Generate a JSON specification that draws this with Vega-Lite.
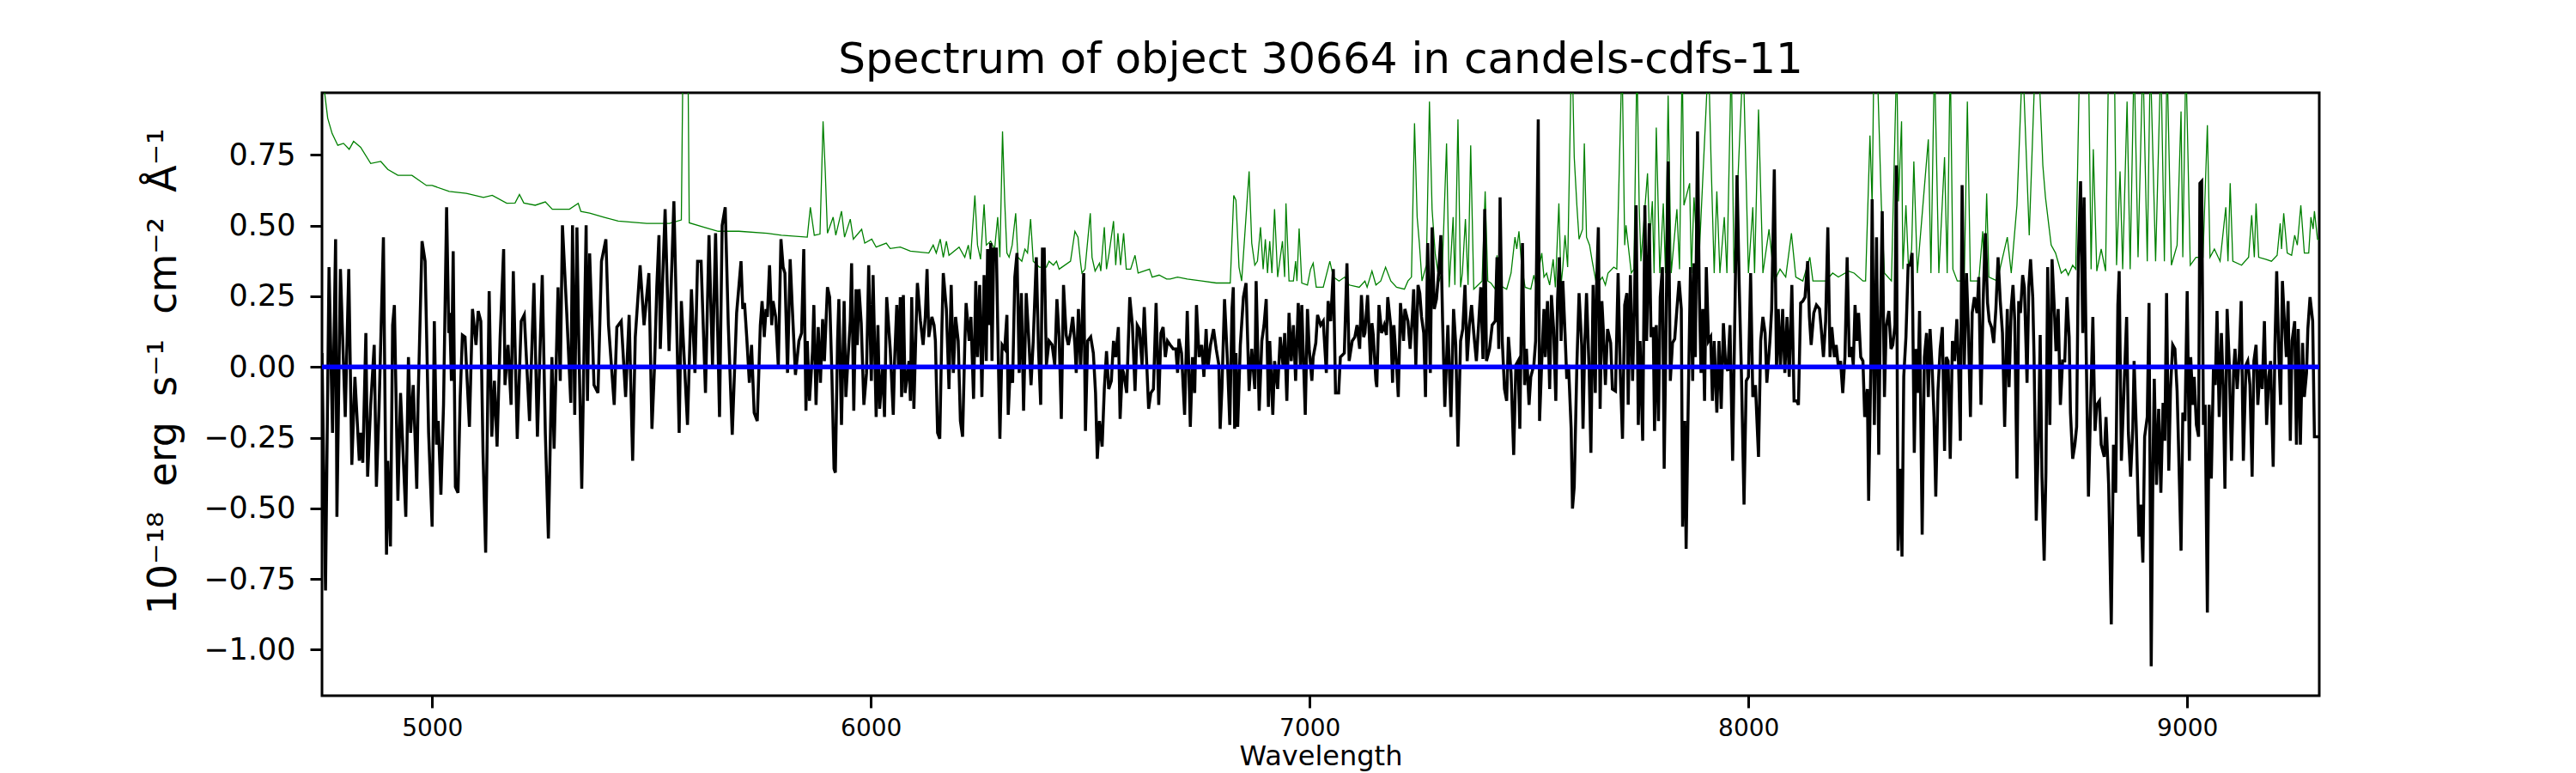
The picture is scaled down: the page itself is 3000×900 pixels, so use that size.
{
  "$schema": "https://vega.github.io/schema/vega-lite/v6.json",
  "width": 2326,
  "height": 702,
  "autosize": {"type": "none"},
  "padding": {"left": 375, "top": 108, "right": 299, "bottom": 90},
  "background": "white",
  "title": {
    "text": "Spectrum of object 30664 in candels-cdfs-11",
    "font": "DejaVu Sans",
    "fontSize": 50,
    "fontWeight": "normal",
    "color": "black",
    "anchor": "middle",
    "frame": "group",
    "offset": 13
  },
  "datasets": {
    "error": [
      {"wave": 4749, "error": 1.3}, {"wave": 4755, "error": 0.97}, {"wave": 4762, "error": 0.88}, {"wave": 4772, "error": 0.826},
      {"wave": 4785, "error": 0.784}, {"wave": 4798, "error": 0.791}, {"wave": 4811, "error": 0.77}, {"wave": 4821, "error": 0.798},
      {"wave": 4837, "error": 0.777}, {"wave": 4860, "error": 0.72}, {"wave": 4883, "error": 0.727}, {"wave": 4899, "error": 0.699},
      {"wave": 4922, "error": 0.678}, {"wave": 4954, "error": 0.678}, {"wave": 4987, "error": 0.642}, {"wave": 5000, "error": 0.642},
      {"wave": 5039, "error": 0.621}, {"wave": 5078, "error": 0.614}, {"wave": 5117, "error": 0.6}, {"wave": 5137, "error": 0.607},
      {"wave": 5170, "error": 0.579}, {"wave": 5189, "error": 0.58}, {"wave": 5199, "error": 0.61}, {"wave": 5209, "error": 0.58},
      {"wave": 5235, "error": 0.572}, {"wave": 5258, "error": 0.584}, {"wave": 5274, "error": 0.558}, {"wave": 5313, "error": 0.558},
      {"wave": 5333, "error": 0.579}, {"wave": 5339, "error": 0.55}, {"wave": 5359, "error": 0.544}, {"wave": 5391, "error": 0.53},
      {"wave": 5424, "error": 0.516}, {"wave": 5489, "error": 0.508}, {"wave": 5541, "error": 0.508}, {"wave": 5568, "error": 0.52},
      {"wave": 5573, "error": 1.3}, {"wave": 5582, "error": 1.3}, {"wave": 5586, "error": 0.51}, {"wave": 5620, "error": 0.494},
      {"wave": 5652, "error": 0.48}, {"wave": 5699, "error": 0.48}, {"wave": 5764, "error": 0.473}, {"wave": 5796, "error": 0.466},
      {"wave": 5855, "error": 0.459}, {"wave": 5862, "error": 0.565}, {"wave": 5871, "error": 0.466}, {"wave": 5884, "error": 0.47},
      {"wave": 5891, "error": 0.869}, {"wave": 5896, "error": 0.692}, {"wave": 5901, "error": 0.473}, {"wave": 5914, "error": 0.53},
      {"wave": 5920, "error": 0.466}, {"wave": 5933, "error": 0.551}, {"wave": 5940, "error": 0.459}, {"wave": 5953, "error": 0.523},
      {"wave": 5960, "error": 0.452}, {"wave": 5979, "error": 0.487}, {"wave": 5986, "error": 0.438}, {"wave": 6002, "error": 0.452},
      {"wave": 6012, "error": 0.424}, {"wave": 6035, "error": 0.438}, {"wave": 6044, "error": 0.419}, {"wave": 6067, "error": 0.424},
      {"wave": 6090, "error": 0.41}, {"wave": 6132, "error": 0.403}, {"wave": 6142, "error": 0.431}, {"wave": 6149, "error": 0.403},
      {"wave": 6158, "error": 0.452}, {"wave": 6165, "error": 0.388}, {"wave": 6172, "error": 0.445}, {"wave": 6178, "error": 0.395},
      {"wave": 6201, "error": 0.424}, {"wave": 6214, "error": 0.388}, {"wave": 6222, "error": 0.431}, {"wave": 6227, "error": 0.381},
      {"wave": 6237, "error": 0.607}, {"wave": 6243, "error": 0.431}, {"wave": 6250, "error": 0.381}, {"wave": 6258, "error": 0.575},
      {"wave": 6263, "error": 0.431}, {"wave": 6273, "error": 0.445}, {"wave": 6282, "error": 0.417}, {"wave": 6289, "error": 0.53},
      {"wave": 6294, "error": 0.388}, {"wave": 6300, "error": 0.833}, {"wave": 6305, "error": 0.586}, {"wave": 6310, "error": 0.403},
      {"wave": 6315, "error": 0.388}, {"wave": 6322, "error": 0.431}, {"wave": 6330, "error": 0.544}, {"wave": 6335, "error": 0.388},
      {"wave": 6344, "error": 0.374}, {"wave": 6351, "error": 0.417}, {"wave": 6357, "error": 0.403}, {"wave": 6364, "error": 0.523},
      {"wave": 6370, "error": 0.374}, {"wave": 6384, "error": 0.353}, {"wave": 6400, "error": 0.353}, {"wave": 6406, "error": 0.374},
      {"wave": 6416, "error": 0.36}, {"wave": 6423, "error": 0.374}, {"wave": 6429, "error": 0.346}, {"wave": 6455, "error": 0.374},
      {"wave": 6465, "error": 0.48}, {"wave": 6472, "error": 0.459}, {"wave": 6478, "error": 0.367}, {"wave": 6481, "error": 0.332},
      {"wave": 6488, "error": 0.346}, {"wave": 6500, "error": 0.544}, {"wave": 6504, "error": 0.388}, {"wave": 6511, "error": 0.339},
      {"wave": 6521, "error": 0.367}, {"wave": 6524, "error": 0.339}, {"wave": 6532, "error": 0.494}, {"wave": 6537, "error": 0.346},
      {"wave": 6543, "error": 0.403}, {"wave": 6553, "error": 0.516}, {"wave": 6558, "error": 0.36}, {"wave": 6563, "error": 0.473},
      {"wave": 6569, "error": 0.36}, {"wave": 6576, "error": 0.473}, {"wave": 6582, "error": 0.346}, {"wave": 6592, "error": 0.346},
      {"wave": 6602, "error": 0.395}, {"wave": 6609, "error": 0.332}, {"wave": 6635, "error": 0.346}, {"wave": 6641, "error": 0.318},
      {"wave": 6657, "error": 0.325}, {"wave": 6674, "error": 0.311}, {"wave": 6682, "error": 0.311}, {"wave": 6699, "error": 0.318},
      {"wave": 6721, "error": 0.311}, {"wave": 6754, "error": 0.304}, {"wave": 6787, "error": 0.297}, {"wave": 6819, "error": 0.297},
      {"wave": 6827, "error": 0.607}, {"wave": 6832, "error": 0.59}, {"wave": 6839, "error": 0.353}, {"wave": 6845, "error": 0.304},
      {"wave": 6862, "error": 0.692}, {"wave": 6868, "error": 0.438}, {"wave": 6875, "error": 0.36}, {"wave": 6881, "error": 0.374},
      {"wave": 6888, "error": 0.494}, {"wave": 6894, "error": 0.346}, {"wave": 6899, "error": 0.452}, {"wave": 6904, "error": 0.332},
      {"wave": 6909, "error": 0.445}, {"wave": 6914, "error": 0.332}, {"wave": 6920, "error": 0.558}, {"wave": 6927, "error": 0.318},
      {"wave": 6938, "error": 0.445}, {"wave": 6943, "error": 0.318}, {"wave": 6946, "error": 0.579}, {"wave": 6953, "error": 0.304},
      {"wave": 6963, "error": 0.304}, {"wave": 6968, "error": 0.374}, {"wave": 6971, "error": 0.304}, {"wave": 6976, "error": 0.49},
      {"wave": 6982, "error": 0.297}, {"wave": 6995, "error": 0.29}, {"wave": 7002, "error": 0.346}, {"wave": 7008, "error": 0.367},
      {"wave": 7015, "error": 0.282}, {"wave": 7031, "error": 0.282}, {"wave": 7046, "error": 0.374}, {"wave": 7054, "error": 0.318},
      {"wave": 7067, "error": 0.304}, {"wave": 7080, "error": 0.318}, {"wave": 7090, "error": 0.29}, {"wave": 7113, "error": 0.282},
      {"wave": 7126, "error": 0.304}, {"wave": 7131, "error": 0.282}, {"wave": 7142, "error": 0.339}, {"wave": 7151, "error": 0.29},
      {"wave": 7162, "error": 0.304}, {"wave": 7173, "error": 0.353}, {"wave": 7185, "error": 0.304}, {"wave": 7198, "error": 0.282},
      {"wave": 7216, "error": 0.275}, {"wave": 7224, "error": 0.304}, {"wave": 7232, "error": 0.318}, {"wave": 7239, "error": 0.862},
      {"wave": 7245, "error": 0.53}, {"wave": 7250, "error": 0.438}, {"wave": 7256, "error": 0.304}, {"wave": 7266, "error": 0.36},
      {"wave": 7273, "error": 0.939}, {"wave": 7279, "error": 0.558}, {"wave": 7286, "error": 0.403}, {"wave": 7295, "error": 0.304},
      {"wave": 7302, "error": 0.332}, {"wave": 7312, "error": 0.791}, {"wave": 7318, "error": 0.282}, {"wave": 7327, "error": 0.53},
      {"wave": 7331, "error": 0.29}, {"wave": 7338, "error": 0.876}, {"wave": 7344, "error": 0.282}, {"wave": 7348, "error": 0.332},
      {"wave": 7355, "error": 0.523}, {"wave": 7361, "error": 0.29}, {"wave": 7367, "error": 0.784}, {"wave": 7374, "error": 0.275},
      {"wave": 7393, "error": 0.304}, {"wave": 7400, "error": 0.621}, {"wave": 7406, "error": 0.304}, {"wave": 7413, "error": 0.297},
      {"wave": 7423, "error": 0.275}, {"wave": 7427, "error": 0.395}, {"wave": 7432, "error": 0.29}, {"wave": 7449, "error": 0.275},
      {"wave": 7459, "error": 0.332}, {"wave": 7468, "error": 0.459}, {"wave": 7472, "error": 0.417}, {"wave": 7477, "error": 0.48},
      {"wave": 7483, "error": 0.36}, {"wave": 7491, "error": 0.282}, {"wave": 7504, "error": 0.275}, {"wave": 7511, "error": 0.325},
      {"wave": 7516, "error": 0.29}, {"wave": 7529, "error": 0.403}, {"wave": 7534, "error": 0.318}, {"wave": 7540, "error": 0.332},
      {"wave": 7547, "error": 0.29}, {"wave": 7555, "error": 0.381}, {"wave": 7560, "error": 0.282}, {"wave": 7568, "error": 0.579},
      {"wave": 7573, "error": 0.29}, {"wave": 7577, "error": 0.353}, {"wave": 7582, "error": 0.466}, {"wave": 7588, "error": 0.353},
      {"wave": 7596, "error": 1.05}, {"wave": 7599, "error": 1.05}, {"wave": 7603, "error": 0.742}, {"wave": 7609, "error": 0.572},
      {"wave": 7614, "error": 0.452}, {"wave": 7622, "error": 0.487}, {"wave": 7626, "error": 0.791}, {"wave": 7631, "error": 0.459},
      {"wave": 7638, "error": 0.431}, {"wave": 7644, "error": 0.374}, {"wave": 7654, "error": 0.29}, {"wave": 7667, "error": 0.318},
      {"wave": 7674, "error": 0.29}, {"wave": 7680, "error": 0.332}, {"wave": 7693, "error": 0.353}, {"wave": 7700, "error": 0.346},
      {"wave": 7712, "error": 1.1}, {"wave": 7718, "error": 0.431}, {"wave": 7721, "error": 0.501}, {"wave": 7733, "error": 0.332},
      {"wave": 7739, "error": 0.346}, {"wave": 7746, "error": 1.1}, {"wave": 7751, "error": 0.572}, {"wave": 7755, "error": 0.374},
      {"wave": 7770, "error": 0.685}, {"wave": 7775, "error": 0.445}, {"wave": 7781, "error": 0.586}, {"wave": 7785, "error": 0.332},
      {"wave": 7790, "error": 0.847}, {"wave": 7798, "error": 0.332}, {"wave": 7806, "error": 0.579}, {"wave": 7811, "error": 0.332},
      {"wave": 7817, "error": 0.96}, {"wave": 7824, "error": 0.332}, {"wave": 7837, "error": 0.558}, {"wave": 7843, "error": 0.346},
      {"wave": 7849, "error": 1.1}, {"wave": 7853, "error": 0.572}, {"wave": 7866, "error": 0.65}, {"wave": 7870, "error": 0.332},
      {"wave": 7876, "error": 0.6}, {"wave": 7886, "error": 0.332}, {"wave": 7909, "error": 1.1}, {"wave": 7915, "error": 0.72},
      {"wave": 7922, "error": 0.332}, {"wave": 7928, "error": 0.621}, {"wave": 7935, "error": 0.332}, {"wave": 7945, "error": 0.53},
      {"wave": 7951, "error": 0.332}, {"wave": 7961, "error": 1.1}, {"wave": 7967, "error": 0.332}, {"wave": 7988, "error": 1.1},
      {"wave": 8000, "error": 0.332}, {"wave": 8010, "error": 0.565}, {"wave": 8014, "error": 0.332}, {"wave": 8023, "error": 0.911},
      {"wave": 8033, "error": 0.332}, {"wave": 8047, "error": 0.487}, {"wave": 8059, "error": 0.304}, {"wave": 8072, "error": 0.346},
      {"wave": 8085, "error": 0.318}, {"wave": 8098, "error": 0.473}, {"wave": 8108, "error": 0.318}, {"wave": 8124, "error": 0.304},
      {"wave": 8140, "error": 0.388}, {"wave": 8147, "error": 0.304}, {"wave": 8176, "error": 0.304}, {"wave": 8192, "error": 0.332},
      {"wave": 8205, "error": 0.318}, {"wave": 8228, "error": 0.339}, {"wave": 8241, "error": 0.332}, {"wave": 8261, "error": 0.304},
      {"wave": 8267, "error": 0.304}, {"wave": 8277, "error": 0.819}, {"wave": 8282, "error": 0.572}, {"wave": 8286, "error": 1.1},
      {"wave": 8293, "error": 1.1}, {"wave": 8303, "error": 0.572}, {"wave": 8310, "error": 0.332}, {"wave": 8326, "error": 0.304},
      {"wave": 8338, "error": 1.1}, {"wave": 8342, "error": 0.586}, {"wave": 8349, "error": 0.869}, {"wave": 8352, "error": 0.346},
      {"wave": 8359, "error": 0.572}, {"wave": 8365, "error": 0.346}, {"wave": 8372, "error": 0.417}, {"wave": 8377, "error": 0.727},
      {"wave": 8385, "error": 0.332}, {"wave": 8410, "error": 0.805}, {"wave": 8416, "error": 0.332}, {"wave": 8424, "error": 1.1},
      {"wave": 8434, "error": 0.332}, {"wave": 8447, "error": 0.742}, {"wave": 8453, "error": 0.332}, {"wave": 8460, "error": 1.1},
      {"wave": 8466, "error": 0.346}, {"wave": 8476, "error": 0.304}, {"wave": 8492, "error": 0.304}, {"wave": 8499, "error": 0.939},
      {"wave": 8506, "error": 0.304}, {"wave": 8525, "error": 0.304}, {"wave": 8534, "error": 0.48}, {"wave": 8538, "error": 0.318},
      {"wave": 8543, "error": 0.614}, {"wave": 8548, "error": 0.318}, {"wave": 8567, "error": 0.304}, {"wave": 8590, "error": 0.459},
      {"wave": 8599, "error": 0.332}, {"wave": 8612, "error": 0.572}, {"wave": 8625, "error": 1.1}, {"wave": 8640, "error": 0.466},
      {"wave": 8654, "error": 1.1}, {"wave": 8661, "error": 1.1}, {"wave": 8671, "error": 0.713}, {"wave": 8677, "error": 0.6},
      {"wave": 8690, "error": 0.431}, {"wave": 8700, "error": 0.403}, {"wave": 8713, "error": 0.332}, {"wave": 8723, "error": 0.346},
      {"wave": 8729, "error": 0.325}, {"wave": 8739, "error": 0.36}, {"wave": 8746, "error": 0.346}, {"wave": 8755, "error": 1.1},
      {"wave": 8765, "error": 1.1}, {"wave": 8775, "error": 1.1}, {"wave": 8781, "error": 0.346}, {"wave": 8786, "error": 0.77},
      {"wave": 8794, "error": 0.339}, {"wave": 8804, "error": 0.417}, {"wave": 8814, "error": 0.339}, {"wave": 8821, "error": 1.1},
      {"wave": 8834, "error": 1.1}, {"wave": 8839, "error": 0.36}, {"wave": 8847, "error": 0.692}, {"wave": 8853, "error": 0.346},
      {"wave": 8863, "error": 0.939}, {"wave": 8870, "error": 0.346}, {"wave": 8879, "error": 1.1}, {"wave": 8888, "error": 0.388},
      {"wave": 8899, "error": 1.1}, {"wave": 8909, "error": 0.374}, {"wave": 8916, "error": 1.1}, {"wave": 8928, "error": 0.374},
      {"wave": 8940, "error": 1.1}, {"wave": 8948, "error": 0.374}, {"wave": 8954, "error": 1.1}, {"wave": 8964, "error": 0.36},
      {"wave": 8977, "error": 0.431}, {"wave": 8986, "error": 0.904}, {"wave": 8990, "error": 0.388}, {"wave": 8997, "error": 1.1},
      {"wave": 9007, "error": 0.36}, {"wave": 9020, "error": 0.388}, {"wave": 9036, "error": 0.388}, {"wave": 9046, "error": 0.855},
      {"wave": 9052, "error": 0.388}, {"wave": 9062, "error": 0.417}, {"wave": 9075, "error": 0.374}, {"wave": 9088, "error": 0.565},
      {"wave": 9093, "error": 0.374}, {"wave": 9098, "error": 0.65}, {"wave": 9104, "error": 0.374}, {"wave": 9124, "error": 0.36},
      {"wave": 9140, "error": 0.388}, {"wave": 9147, "error": 0.537}, {"wave": 9153, "error": 0.388}, {"wave": 9157, "error": 0.579},
      {"wave": 9163, "error": 0.388}, {"wave": 9179, "error": 0.381}, {"wave": 9192, "error": 0.374}, {"wave": 9205, "error": 0.395},
      {"wave": 9212, "error": 0.508}, {"wave": 9215, "error": 0.417}, {"wave": 9220, "error": 0.544}, {"wave": 9228, "error": 0.403},
      {"wave": 9238, "error": 0.395}, {"wave": 9245, "error": 0.466}, {"wave": 9251, "error": 0.431}, {"wave": 9259, "error": 0.572},
      {"wave": 9267, "error": 0.403}, {"wave": 9277, "error": 0.403}, {"wave": 9282, "error": 0.53}, {"wave": 9287, "error": 0.488},
      {"wave": 9290, "error": 0.551}, {"wave": 9297, "error": 0.452}, {"wave": 9301, "error": 0.45}
    ],
    "model": [
      {"wave": 4749, "model": 0}, {"wave": 9301, "model": 0}
    ],
    "flux": [
      {"wave": 4749, "flux": 0.049}, {"wave": 4757, "flux": -0.791}, {"wave": 4765, "flux": 0.353}, {"wave": 4773, "flux": -0.233},
      {"wave": 4780, "flux": 0.452}, {"wave": 4783, "flux": -0.53}, {"wave": 4791, "flux": 0.346}, {"wave": 4802, "flux": -0.177},
      {"wave": 4810, "flux": 0.346}, {"wave": 4817, "flux": -0.346}, {"wave": 4824, "flux": -0.035}, {"wave": 4834, "flux": -0.332},
      {"wave": 4837, "flux": -0.233}, {"wave": 4842, "flux": -0.339}, {"wave": 4849, "flux": 0.12}, {"wave": 4853, "flux": -0.388},
      {"wave": 4860, "flux": -0.134}, {"wave": 4868, "flux": 0.078}, {"wave": 4873, "flux": -0.424}, {"wave": 4879, "flux": -0.148},
      {"wave": 4889, "flux": 0.459}, {"wave": 4896, "flux": -0.664}, {"wave": 4899, "flux": -0.332}, {"wave": 4905, "flux": -0.635},
      {"wave": 4910, "flux": 0.148}, {"wave": 4914, "flux": 0.219}, {"wave": 4922, "flux": -0.473}, {"wave": 4928, "flux": -0.092},
      {"wave": 4940, "flux": -0.53}, {"wave": 4946, "flux": 0.035}, {"wave": 4951, "flux": -0.233}, {"wave": 4957, "flux": -0.064},
      {"wave": 4965, "flux": -0.431}, {"wave": 4968, "flux": -0.12}, {"wave": 4977, "flux": 0.445}, {"wave": 4984, "flux": 0.374},
      {"wave": 4992, "flux": -0.233}, {"wave": 5000, "flux": -0.565}, {"wave": 5005, "flux": 0.162}, {"wave": 5010, "flux": -0.275},
      {"wave": 5014, "flux": -0.191}, {"wave": 5020, "flux": -0.452}, {"wave": 5026, "flux": -0.134}, {"wave": 5033, "flux": 0.565},
      {"wave": 5038, "flux": 0.12}, {"wave": 5040, "flux": 0.191}, {"wave": 5044, "flux": -0.049}, {"wave": 5048, "flux": 0.409},
      {"wave": 5053, "flux": -0.424}, {"wave": 5059, "flux": -0.445}, {"wave": 5064, "flux": -0.106}, {"wave": 5069, "flux": 0.113},
      {"wave": 5075, "flux": 0.106}, {"wave": 5085, "flux": -0.212}, {"wave": 5092, "flux": 0.205}, {"wave": 5100, "flux": 0.078},
      {"wave": 5105, "flux": 0.198}, {"wave": 5111, "flux": 0.162}, {"wave": 5116, "flux": -0.304}, {"wave": 5122, "flux": -0.657},
      {"wave": 5130, "flux": 0.268}, {"wave": 5136, "flux": -0.247}, {"wave": 5142, "flux": -0.049}, {"wave": 5148, "flux": -0.282},
      {"wave": 5155, "flux": 0.106}, {"wave": 5163, "flux": 0.417}, {"wave": 5166, "flux": -0.064}, {"wave": 5173, "flux": 0.078},
      {"wave": 5180, "flux": -0.134}, {"wave": 5185, "flux": 0.339}, {"wave": 5194, "flux": -0.254}, {"wave": 5203, "flux": 0.162},
      {"wave": 5210, "flux": 0.184}, {"wave": 5222, "flux": -0.191}, {"wave": 5232, "flux": 0.297}, {"wave": 5240, "flux": -0.247},
      {"wave": 5251, "flux": 0.325}, {"wave": 5258, "flux": -0.233}, {"wave": 5265, "flux": -0.607}, {"wave": 5273, "flux": 0.035},
      {"wave": 5278, "flux": -0.289}, {"wave": 5287, "flux": 0.282}, {"wave": 5292, "flux": -0.049}, {"wave": 5297, "flux": 0.501},
      {"wave": 5307, "flux": 0.184}, {"wave": 5316, "flux": -0.127}, {"wave": 5320, "flux": 0.501}, {"wave": 5325, "flux": -0.169},
      {"wave": 5330, "flux": 0.494}, {"wave": 5334, "flux": 0.113}, {"wave": 5341, "flux": -0.431}, {"wave": 5351, "flux": 0.501},
      {"wave": 5354, "flux": -0.12}, {"wave": 5359, "flux": 0.402}, {"wave": 5369, "flux": -0.064}, {"wave": 5378, "flux": -0.092},
      {"wave": 5386, "flux": 0.374}, {"wave": 5396, "flux": 0.452}, {"wave": 5402, "flux": 0.148}, {"wave": 5415, "flux": -0.134},
      {"wave": 5421, "flux": 0.141}, {"wave": 5431, "flux": 0.162}, {"wave": 5441, "flux": -0.106}, {"wave": 5449, "flux": 0.184},
      {"wave": 5457, "flux": -0.332}, {"wave": 5463, "flux": 0.106}, {"wave": 5474, "flux": 0.36}, {"wave": 5483, "flux": 0.148},
      {"wave": 5494, "flux": 0.332}, {"wave": 5501, "flux": -0.219}, {"wave": 5507, "flux": 0.007}, {"wave": 5512, "flux": 0.282},
      {"wave": 5517, "flux": 0.466}, {"wave": 5520, "flux": 0.064}, {"wave": 5531, "flux": 0.558}, {"wave": 5540, "flux": 0.056},
      {"wave": 5551, "flux": 0.586}, {"wave": 5563, "flux": -0.233}, {"wave": 5568, "flux": 0.233}, {"wave": 5582, "flux": -0.205},
      {"wave": 5591, "flux": 0.275}, {"wave": 5599, "flux": -0.021}, {"wave": 5605, "flux": 0.374}, {"wave": 5613, "flux": 0.374},
      {"wave": 5623, "flux": -0.092}, {"wave": 5631, "flux": 0.466}, {"wave": 5639, "flux": 0.007}, {"wave": 5646, "flux": 0.473},
      {"wave": 5655, "flux": -0.177}, {"wave": 5661, "flux": 0.501}, {"wave": 5668, "flux": 0.565}, {"wave": 5675, "flux": 0.148},
      {"wave": 5684, "flux": -0.24}, {"wave": 5694, "flux": 0.191}, {"wave": 5704, "flux": 0.374}, {"wave": 5708, "flux": 0.205},
      {"wave": 5712, "flux": 0.226}, {"wave": 5717, "flux": 0.106}, {"wave": 5723, "flux": -0.056}, {"wave": 5728, "flux": 0.078},
      {"wave": 5734, "flux": -0.162}, {"wave": 5741, "flux": -0.191}, {"wave": 5748, "flux": 0.148}, {"wave": 5752, "flux": 0.233},
      {"wave": 5757, "flux": 0.106}, {"wave": 5761, "flux": 0.205}, {"wave": 5764, "flux": 0.177}, {"wave": 5769, "flux": 0.36},
      {"wave": 5774, "flux": 0.148}, {"wave": 5777, "flux": 0.233}, {"wave": 5783, "flux": 0.177}, {"wave": 5789, "flux": 0},
      {"wave": 5795, "flux": 0.452}, {"wave": 5800, "flux": 0.353}, {"wave": 5804, "flux": 0.332}, {"wave": 5810, "flux": -0.021},
      {"wave": 5816, "flux": 0.381}, {"wave": 5821, "flux": 0.205}, {"wave": 5828, "flux": -0.028}, {"wave": 5836, "flux": 0.092},
      {"wave": 5842, "flux": 0.12}, {"wave": 5847, "flux": 0.417}, {"wave": 5852, "flux": -0.155}, {"wave": 5855, "flux": 0.092},
      {"wave": 5860, "flux": -0.12}, {"wave": 5867, "flux": 0.056}, {"wave": 5870, "flux": 0.219}, {"wave": 5875, "flux": -0.134},
      {"wave": 5880, "flux": 0.141}, {"wave": 5885, "flux": -0.056}, {"wave": 5890, "flux": 0.169}, {"wave": 5894, "flux": 0.021},
      {"wave": 5901, "flux": 0.282}, {"wave": 5906, "flux": 0.247}, {"wave": 5911, "flux": -0.021}, {"wave": 5916, "flux": -0.36},
      {"wave": 5919, "flux": -0.374}, {"wave": 5924, "flux": 0.092}, {"wave": 5927, "flux": 0.24}, {"wave": 5933, "flux": -0.205},
      {"wave": 5939, "flux": 0.233}, {"wave": 5943, "flux": -0.106}, {"wave": 5948, "flux": 0.035}, {"wave": 5953, "flux": 0.162},
      {"wave": 5956, "flux": 0.367}, {"wave": 5961, "flux": -0.155}, {"wave": 5966, "flux": 0.275}, {"wave": 5969, "flux": 0.078},
      {"wave": 5973, "flux": 0.275}, {"wave": 5978, "flux": 0.155}, {"wave": 5984, "flux": -0.134}, {"wave": 5990, "flux": -0.021},
      {"wave": 5995, "flux": 0.36}, {"wave": 6001, "flux": -0.049}, {"wave": 6005, "flux": 0.325}, {"wave": 6012, "flux": -0.177},
      {"wave": 6016, "flux": 0.148}, {"wave": 6020, "flux": -0.148}, {"wave": 6027, "flux": 0.007}, {"wave": 6031, "flux": -0.177},
      {"wave": 6036, "flux": 0.247}, {"wave": 6044, "flux": 0.064}, {"wave": 6051, "flux": -0.169}, {"wave": 6054, "flux": 0.021},
      {"wave": 6059, "flux": 0.219}, {"wave": 6063, "flux": -0.007}, {"wave": 6067, "flux": 0.247}, {"wave": 6070, "flux": -0.106},
      {"wave": 6074, "flux": 0.254}, {"wave": 6078, "flux": -0.092}, {"wave": 6087, "flux": 0.021}, {"wave": 6090, "flux": -0.12},
      {"wave": 6093, "flux": 0.247}, {"wave": 6098, "flux": -0.148}, {"wave": 6103, "flux": 0.148}, {"wave": 6106, "flux": 0.297},
      {"wave": 6113, "flux": 0.162}, {"wave": 6119, "flux": 0.078}, {"wave": 6124, "flux": 0.177}, {"wave": 6128, "flux": 0.346},
      {"wave": 6132, "flux": 0.106}, {"wave": 6139, "flux": 0.177}, {"wave": 6144, "flux": 0.148}, {"wave": 6147, "flux": 0.092},
      {"wave": 6152, "flux": -0.233}, {"wave": 6157, "flux": -0.254}, {"wave": 6162, "flux": 0.148}, {"wave": 6165, "flux": 0.332},
      {"wave": 6172, "flux": 0.205}, {"wave": 6178, "flux": -0.078}, {"wave": 6183, "flux": 0.29}, {"wave": 6188, "flux": -0.021},
      {"wave": 6193, "flux": 0.177}, {"wave": 6199, "flux": 0.092}, {"wave": 6204, "flux": -0.191}, {"wave": 6209, "flux": -0.247},
      {"wave": 6214, "flux": 0.078}, {"wave": 6217, "flux": 0.226}, {"wave": 6224, "flux": 0.092}, {"wave": 6228, "flux": 0.177},
      {"wave": 6234, "flux": -0.113}, {"wave": 6239, "flux": 0.304}, {"wave": 6243, "flux": 0.035}, {"wave": 6248, "flux": 0.29},
      {"wave": 6253, "flux": -0.106}, {"wave": 6258, "flux": 0.325}, {"wave": 6263, "flux": 0.021}, {"wave": 6266, "flux": 0.417},
      {"wave": 6269, "flux": 0.148}, {"wave": 6273, "flux": 0.438}, {"wave": 6276, "flux": 0.021}, {"wave": 6280, "flux": 0.417},
      {"wave": 6286, "flux": 0.417}, {"wave": 6290, "flux": 0.064}, {"wave": 6294, "flux": -0.254}, {"wave": 6299, "flux": 0.078},
      {"wave": 6305, "flux": 0.064}, {"wave": 6310, "flux": 0.184}, {"wave": 6313, "flux": -0.169}, {"wave": 6318, "flux": 0.007},
      {"wave": 6323, "flux": -0.056}, {"wave": 6328, "flux": 0.318}, {"wave": 6333, "flux": 0.403}, {"wave": 6338, "flux": -0.021},
      {"wave": 6343, "flux": 0.261}, {"wave": 6348, "flux": -0.155}, {"wave": 6354, "flux": 0.261}, {"wave": 6361, "flux": 0.064},
      {"wave": 6365, "flux": -0.064}, {"wave": 6370, "flux": 0.092}, {"wave": 6377, "flux": 0.388}, {"wave": 6382, "flux": 0.064},
      {"wave": 6387, "flux": -0.134}, {"wave": 6391, "flux": 0.417}, {"wave": 6395, "flux": 0.417}, {"wave": 6400, "flux": 0.007},
      {"wave": 6406, "flux": 0.092}, {"wave": 6413, "flux": 0.078}, {"wave": 6419, "flux": 0.007}, {"wave": 6424, "flux": 0.24},
      {"wave": 6429, "flux": 0.106}, {"wave": 6434, "flux": -0.184}, {"wave": 6439, "flux": 0.29}, {"wave": 6445, "flux": 0.113},
      {"wave": 6450, "flux": 0.078}, {"wave": 6455, "flux": 0.12}, {"wave": 6460, "flux": 0.177}, {"wave": 6465, "flux": 0.078},
      {"wave": 6468, "flux": -0.021}, {"wave": 6473, "flux": 0.205}, {"wave": 6478, "flux": -0.007}, {"wave": 6485, "flux": 0.332},
      {"wave": 6489, "flux": -0.226}, {"wave": 6494, "flux": 0.092}, {"wave": 6501, "flux": 0.106}, {"wave": 6507, "flux": 0.049},
      {"wave": 6512, "flux": -0.092}, {"wave": 6516, "flux": -0.325}, {"wave": 6521, "flux": -0.191}, {"wave": 6527, "flux": -0.282},
      {"wave": 6532, "flux": -0.078}, {"wave": 6537, "flux": 0.056}, {"wave": 6542, "flux": -0.078}, {"wave": 6548, "flux": -0.049},
      {"wave": 6553, "flux": 0.092}, {"wave": 6558, "flux": 0.035}, {"wave": 6564, "flux": 0.141}, {"wave": 6568, "flux": -0.184},
      {"wave": 6573, "flux": -0.007}, {"wave": 6576, "flux": -0.021}, {"wave": 6583, "flux": -0.092}, {"wave": 6590, "flux": 0.247},
      {"wave": 6596, "flux": 0.148}, {"wave": 6602, "flux": -0.085}, {"wave": 6607, "flux": 0.148}, {"wave": 6612, "flux": 0.134},
      {"wave": 6618, "flux": 0.007}, {"wave": 6623, "flux": 0.212}, {"wave": 6628, "flux": 0.035}, {"wave": 6633, "flux": -0.148},
      {"wave": 6638, "flux": -0.092}, {"wave": 6644, "flux": -0.078}, {"wave": 6650, "flux": 0.226}, {"wave": 6656, "flux": -0.134},
      {"wave": 6661, "flux": 0.12}, {"wave": 6666, "flux": 0.141}, {"wave": 6671, "flux": 0.035}, {"wave": 6676, "flux": 0.092},
      {"wave": 6682, "flux": 0.078}, {"wave": 6689, "flux": 0.064}, {"wave": 6695, "flux": 0.064}, {"wave": 6699, "flux": -0.021},
      {"wave": 6702, "flux": 0.099}, {"wave": 6708, "flux": 0.049}, {"wave": 6715, "flux": -0.169}, {"wave": 6721, "flux": 0.198},
      {"wave": 6728, "flux": -0.212}, {"wave": 6733, "flux": 0.035}, {"wave": 6738, "flux": -0.092}, {"wave": 6742, "flux": 0.219},
      {"wave": 6748, "flux": 0.035}, {"wave": 6754, "flux": 0.078}, {"wave": 6759, "flux": -0.035}, {"wave": 6764, "flux": 0.134},
      {"wave": 6768, "flux": -0.007}, {"wave": 6774, "flux": 0.078}, {"wave": 6781, "flux": 0.134}, {"wave": 6787, "flux": 0.064},
      {"wave": 6793, "flux": 0.007}, {"wave": 6796, "flux": -0.219}, {"wave": 6800, "flux": -0.078}, {"wave": 6806, "flux": 0.24},
      {"wave": 6813, "flux": 0.007}, {"wave": 6818, "flux": -0.205}, {"wave": 6823, "flux": 0.205}, {"wave": 6826, "flux": 0.282},
      {"wave": 6829, "flux": -0.219}, {"wave": 6832, "flux": 0.049}, {"wave": 6836, "flux": -0.212}, {"wave": 6842, "flux": 0.078},
      {"wave": 6849, "flux": 0.247}, {"wave": 6855, "flux": 0.297}, {"wave": 6862, "flux": -0.085}, {"wave": 6868, "flux": 0.064},
      {"wave": 6875, "flux": -0.078}, {"wave": 6878, "flux": 0.304}, {"wave": 6885, "flux": -0.155}, {"wave": 6891, "flux": 0.092},
      {"wave": 6896, "flux": 0.148}, {"wave": 6901, "flux": 0.24}, {"wave": 6906, "flux": -0.141}, {"wave": 6909, "flux": 0.092},
      {"wave": 6916, "flux": -0.169}, {"wave": 6920, "flux": 0.021}, {"wave": 6927, "flux": -0.078}, {"wave": 6933, "flux": 0.106},
      {"wave": 6940, "flux": -0.007}, {"wave": 6943, "flux": 0.12}, {"wave": 6948, "flux": -0.12}, {"wave": 6953, "flux": 0.191},
      {"wave": 6958, "flux": 0.021}, {"wave": 6963, "flux": 0.148}, {"wave": 6968, "flux": -0.049}, {"wave": 6974, "flux": 0.226},
      {"wave": 6979, "flux": 0.007}, {"wave": 6982, "flux": 0.219}, {"wave": 6986, "flux": 0.021}, {"wave": 6990, "flux": -0.169},
      {"wave": 6995, "flux": 0.205}, {"wave": 6999, "flux": 0.064}, {"wave": 7005, "flux": -0.049}, {"wave": 7008, "flux": 0.035},
      {"wave": 7014, "flux": 0.085}, {"wave": 7018, "flux": 0.184}, {"wave": 7025, "flux": 0.148}, {"wave": 7031, "flux": 0.162},
      {"wave": 7038, "flux": -0.021}, {"wave": 7042, "flux": 0.233}, {"wave": 7048, "flux": 0.162}, {"wave": 7054, "flux": 0.346},
      {"wave": 7059, "flux": -0.092}, {"wave": 7066, "flux": -0.092}, {"wave": 7070, "flux": 0.035}, {"wave": 7079, "flux": 0.049},
      {"wave": 7085, "flux": 0.367}, {"wave": 7090, "flux": 0.021}, {"wave": 7097, "flux": 0.092}, {"wave": 7103, "flux": 0.106},
      {"wave": 7108, "flux": 0.148}, {"wave": 7114, "flux": 0.064}, {"wave": 7118, "flux": 0.254}, {"wave": 7123, "flux": 0.106},
      {"wave": 7126, "flux": 0.12}, {"wave": 7132, "flux": 0.254}, {"wave": 7139, "flux": 0}, {"wave": 7142, "flux": 0.155},
      {"wave": 7145, "flux": 0.113}, {"wave": 7151, "flux": -0.049}, {"wave": 7153, "flux": -0.071}, {"wave": 7158, "flux": 0.219},
      {"wave": 7164, "flux": 0.12}, {"wave": 7170, "flux": 0.148}, {"wave": 7175, "flux": 0.113}, {"wave": 7178, "flux": 0.247},
      {"wave": 7185, "flux": 0.141}, {"wave": 7189, "flux": -0.056}, {"wave": 7192, "flux": 0.148}, {"wave": 7198, "flux": 0.007},
      {"wave": 7202, "flux": -0.106}, {"wave": 7207, "flux": 0.226}, {"wave": 7214, "flux": 0.092}, {"wave": 7217, "flux": 0.205},
      {"wave": 7224, "flux": 0.162}, {"wave": 7229, "flux": 0.064}, {"wave": 7234, "flux": 0.177}, {"wave": 7237, "flux": 0.275},
      {"wave": 7242, "flux": 0.007}, {"wave": 7247, "flux": 0.29}, {"wave": 7251, "flux": 0.261}, {"wave": 7255, "flux": 0.177},
      {"wave": 7260, "flux": 0.12}, {"wave": 7264, "flux": -0.106}, {"wave": 7269, "flux": 0.438}, {"wave": 7275, "flux": -0.021},
      {"wave": 7279, "flux": 0.494}, {"wave": 7284, "flux": 0.205}, {"wave": 7289, "flux": 0.24}, {"wave": 7294, "flux": 0.332},
      {"wave": 7299, "flux": 0.466}, {"wave": 7303, "flux": 0.162}, {"wave": 7308, "flux": -0.141}, {"wave": 7315, "flux": 0.148},
      {"wave": 7322, "flux": -0.177}, {"wave": 7328, "flux": 0.205}, {"wave": 7333, "flux": 0.078}, {"wave": 7338, "flux": -0.282},
      {"wave": 7344, "flux": 0.092}, {"wave": 7349, "flux": 0.134}, {"wave": 7354, "flux": 0.29}, {"wave": 7359, "flux": 0.021},
      {"wave": 7364, "flux": 0.148}, {"wave": 7369, "flux": 0.219}, {"wave": 7374, "flux": 0.12}, {"wave": 7380, "flux": 0.021},
      {"wave": 7385, "flux": 0.148}, {"wave": 7390, "flux": 0.282}, {"wave": 7395, "flux": 0.028}, {"wave": 7399, "flux": 0.558},
      {"wave": 7403, "flux": 0.021}, {"wave": 7410, "flux": 0.064}, {"wave": 7416, "flux": 0.148}, {"wave": 7423, "flux": 0.162},
      {"wave": 7427, "flux": 0.388}, {"wave": 7431, "flux": 0.064}, {"wave": 7434, "flux": 0.6}, {"wave": 7439, "flux": 0.092},
      {"wave": 7444, "flux": -0.078}, {"wave": 7449, "flux": -0.12}, {"wave": 7453, "flux": 0.106}, {"wave": 7459, "flux": -0.021},
      {"wave": 7465, "flux": -0.311}, {"wave": 7470, "flux": 0.007}, {"wave": 7475, "flux": 0.021}, {"wave": 7479, "flux": -0.219},
      {"wave": 7485, "flux": 0.438}, {"wave": 7490, "flux": -0.064}, {"wave": 7494, "flux": 0.064}, {"wave": 7500, "flux": -0.134},
      {"wave": 7504, "flux": -0.035}, {"wave": 7511, "flux": 0.007}, {"wave": 7515, "flux": 0.092}, {"wave": 7521, "flux": 0.876},
      {"wave": 7524, "flux": -0.191}, {"wave": 7529, "flux": 0.021}, {"wave": 7534, "flux": 0.205}, {"wave": 7537, "flux": 0.035},
      {"wave": 7542, "flux": 0.233}, {"wave": 7547, "flux": -0.078}, {"wave": 7551, "flux": 0.254}, {"wave": 7556, "flux": 0.134},
      {"wave": 7561, "flux": -0.12}, {"wave": 7565, "flux": 0.24}, {"wave": 7569, "flux": 0.388}, {"wave": 7573, "flux": 0.092},
      {"wave": 7577, "flux": 0.304}, {"wave": 7582, "flux": 0.12}, {"wave": 7586, "flux": -0.042}, {"wave": 7590, "flux": 0.007},
      {"wave": 7596, "flux": -0.219}, {"wave": 7599, "flux": -0.501}, {"wave": 7603, "flux": -0.424}, {"wave": 7609, "flux": 0.007},
      {"wave": 7614, "flux": 0.261}, {"wave": 7620, "flux": 0.078}, {"wave": 7623, "flux": -0.219}, {"wave": 7627, "flux": 0.078},
      {"wave": 7631, "flux": 0.261}, {"wave": 7637, "flux": -0.014}, {"wave": 7641, "flux": -0.304}, {"wave": 7646, "flux": 0.29},
      {"wave": 7651, "flux": -0.092}, {"wave": 7654, "flux": 0.29}, {"wave": 7658, "flux": 0.494}, {"wave": 7662, "flux": -0.148},
      {"wave": 7666, "flux": 0.233}, {"wave": 7669, "flux": 0.141}, {"wave": 7674, "flux": -0.064}, {"wave": 7679, "flux": 0.134},
      {"wave": 7686, "flux": 0.085}, {"wave": 7690, "flux": -0.078}, {"wave": 7697, "flux": -0.085}, {"wave": 7703, "flux": 0.332},
      {"wave": 7708, "flux": -0.021}, {"wave": 7713, "flux": -0.254}, {"wave": 7718, "flux": 0.219}, {"wave": 7723, "flux": 0.261},
      {"wave": 7726, "flux": -0.134}, {"wave": 7731, "flux": 0.325}, {"wave": 7736, "flux": -0.049}, {"wave": 7740, "flux": 0.205},
      {"wave": 7744, "flux": 0.572}, {"wave": 7749, "flux": -0.205}, {"wave": 7753, "flux": 0.092}, {"wave": 7759, "flux": -0.261},
      {"wave": 7764, "flux": 0.572}, {"wave": 7768, "flux": 0.092}, {"wave": 7774, "flux": 0.508}, {"wave": 7778, "flux": 0.106},
      {"wave": 7783, "flux": 0.141}, {"wave": 7786, "flux": -0.226}, {"wave": 7790, "flux": 0.148}, {"wave": 7795, "flux": -0.191},
      {"wave": 7799, "flux": 0.247}, {"wave": 7804, "flux": 0.353}, {"wave": 7808, "flux": -0.36}, {"wave": 7812, "flux": 0.106},
      {"wave": 7817, "flux": 0.727}, {"wave": 7822, "flux": -0.049}, {"wave": 7827, "flux": 0.085}, {"wave": 7832, "flux": 0.099},
      {"wave": 7837, "flux": 0.205}, {"wave": 7842, "flux": 0.304}, {"wave": 7847, "flux": 0.205}, {"wave": 7850, "flux": -0.565},
      {"wave": 7855, "flux": -0.191}, {"wave": 7858, "flux": -0.643}, {"wave": 7863, "flux": -0.106}, {"wave": 7868, "flux": 0.353},
      {"wave": 7873, "flux": -0.049}, {"wave": 7876, "flux": 0.367}, {"wave": 7879, "flux": 0.035}, {"wave": 7884, "flux": 0.833},
      {"wave": 7888, "flux": 0.261}, {"wave": 7892, "flux": -0.021}, {"wave": 7896, "flux": 0.205}, {"wave": 7900, "flux": -0.12},
      {"wave": 7904, "flux": 0.353}, {"wave": 7909, "flux": 0.092}, {"wave": 7914, "flux": 0.106}, {"wave": 7918, "flux": -0.12},
      {"wave": 7922, "flux": 0.092}, {"wave": 7928, "flux": -0.162}, {"wave": 7933, "flux": 0.092}, {"wave": 7938, "flux": -0.148},
      {"wave": 7943, "flux": 0.155}, {"wave": 7948, "flux": 0.007}, {"wave": 7953, "flux": -0.014}, {"wave": 7958, "flux": 0.148},
      {"wave": 7964, "flux": -0.332}, {"wave": 7969, "flux": 0.177}, {"wave": 7974, "flux": 0.678}, {"wave": 7979, "flux": 0.29},
      {"wave": 7984, "flux": -0.021}, {"wave": 7990, "flux": -0.487}, {"wave": 7995, "flux": -0.049}, {"wave": 8000, "flux": -0.035},
      {"wave": 8005, "flux": 0.332}, {"wave": 8010, "flux": -0.106}, {"wave": 8016, "flux": -0.064}, {"wave": 8023, "flux": -0.318},
      {"wave": 8028, "flux": 0.092}, {"wave": 8033, "flux": 0.177}, {"wave": 8038, "flux": 0.12}, {"wave": 8042, "flux": -0.056},
      {"wave": 8049, "flux": 0.092}, {"wave": 8053, "flux": 0.205}, {"wave": 8059, "flux": 0.699}, {"wave": 8064, "flux": -0.007},
      {"wave": 8068, "flux": 0.205}, {"wave": 8073, "flux": 0}, {"wave": 8078, "flux": 0.205}, {"wave": 8083, "flux": -0.021},
      {"wave": 8088, "flux": 0.177}, {"wave": 8093, "flux": -0.035}, {"wave": 8099, "flux": 0.29}, {"wave": 8104, "flux": -0.12},
      {"wave": 8110, "flux": -0.12}, {"wave": 8114, "flux": -0.134}, {"wave": 8119, "flux": 0.226}, {"wave": 8124, "flux": 0.233},
      {"wave": 8129, "flux": 0.247}, {"wave": 8135, "flux": 0.374}, {"wave": 8139, "flux": 0.177}, {"wave": 8143, "flux": 0.078},
      {"wave": 8149, "flux": 0.191}, {"wave": 8155, "flux": 0.219}, {"wave": 8162, "flux": 0.205}, {"wave": 8166, "flux": 0.134},
      {"wave": 8171, "flux": 0.035}, {"wave": 8176, "flux": 0.162}, {"wave": 8181, "flux": 0.494}, {"wave": 8186, "flux": 0.035},
      {"wave": 8190, "flux": 0.141}, {"wave": 8196, "flux": 0.035}, {"wave": 8200, "flux": 0.078}, {"wave": 8205, "flux": 0},
      {"wave": 8210, "flux": 0.021}, {"wave": 8215, "flux": -0.092}, {"wave": 8220, "flux": 0.035}, {"wave": 8225, "flux": 0.388},
      {"wave": 8230, "flux": 0.035}, {"wave": 8235, "flux": 0.071}, {"wave": 8239, "flux": 0.007}, {"wave": 8243, "flux": 0.219},
      {"wave": 8247, "flux": 0.092}, {"wave": 8251, "flux": 0.191}, {"wave": 8256, "flux": 0.035}, {"wave": 8261, "flux": 0.021},
      {"wave": 8265, "flux": -0.177}, {"wave": 8271, "flux": -0.078}, {"wave": 8274, "flux": -0.473}, {"wave": 8279, "flux": 0.007},
      {"wave": 8282, "flux": 0.593}, {"wave": 8287, "flux": -0.205}, {"wave": 8292, "flux": 0.459}, {"wave": 8297, "flux": -0.311},
      {"wave": 8300, "flux": 0.092}, {"wave": 8305, "flux": 0.551}, {"wave": 8310, "flux": -0.106}, {"wave": 8314, "flux": 0.141},
      {"wave": 8320, "flux": 0.198}, {"wave": 8325, "flux": 0.064}, {"wave": 8329, "flux": 0.078}, {"wave": 8334, "flux": 0.148},
      {"wave": 8337, "flux": 0.713}, {"wave": 8341, "flux": -0.65}, {"wave": 8346, "flux": -0.36}, {"wave": 8350, "flux": -0.671},
      {"wave": 8354, "flux": -0.035}, {"wave": 8359, "flux": 0.106}, {"wave": 8364, "flux": 0.36}, {"wave": 8369, "flux": 0.36},
      {"wave": 8373, "flux": 0.403}, {"wave": 8378, "flux": -0.304}, {"wave": 8382, "flux": 0.064}, {"wave": 8386, "flux": -0.092},
      {"wave": 8390, "flux": 0.198}, {"wave": 8396, "flux": -0.593}, {"wave": 8401, "flux": 0.035}, {"wave": 8406, "flux": 0.12},
      {"wave": 8410, "flux": -0.106}, {"wave": 8414, "flux": 0.134}, {"wave": 8419, "flux": -0.014}, {"wave": 8423, "flux": -0.177},
      {"wave": 8427, "flux": -0.459}, {"wave": 8432, "flux": -0.085}, {"wave": 8437, "flux": 0.064}, {"wave": 8442, "flux": 0.141},
      {"wave": 8447, "flux": -0.297}, {"wave": 8451, "flux": 0.035}, {"wave": 8455, "flux": 0.021}, {"wave": 8460, "flux": -0.325},
      {"wave": 8465, "flux": 0.092}, {"wave": 8470, "flux": 0.021}, {"wave": 8475, "flux": 0.169}, {"wave": 8479, "flux": 0.007},
      {"wave": 8483, "flux": -0.261}, {"wave": 8487, "flux": 0.643}, {"wave": 8492, "flux": 0.007}, {"wave": 8497, "flux": 0.332},
      {"wave": 8501, "flux": 0.148}, {"wave": 8506, "flux": -0.177}, {"wave": 8510, "flux": 0.191}, {"wave": 8515, "flux": 0.247},
      {"wave": 8521, "flux": 0.191}, {"wave": 8525, "flux": 0.318}, {"wave": 8530, "flux": -0.134}, {"wave": 8535, "flux": 0.233},
      {"wave": 8540, "flux": 0.473}, {"wave": 8545, "flux": 0.226}, {"wave": 8549, "flux": 0.162}, {"wave": 8554, "flux": 0.141},
      {"wave": 8559, "flux": 0.085}, {"wave": 8564, "flux": 0.205}, {"wave": 8569, "flux": 0.388}, {"wave": 8574, "flux": 0.233},
      {"wave": 8579, "flux": 0.12}, {"wave": 8584, "flux": -0.212}, {"wave": 8590, "flux": 0.205}, {"wave": 8594, "flux": -0.071},
      {"wave": 8599, "flux": 0.212}, {"wave": 8603, "flux": 0.29}, {"wave": 8607, "flux": 0.162}, {"wave": 8612, "flux": -0.395},
      {"wave": 8616, "flux": 0.233}, {"wave": 8620, "flux": 0.191}, {"wave": 8625, "flux": 0.325}, {"wave": 8629, "flux": 0.282},
      {"wave": 8635, "flux": -0.056}, {"wave": 8639, "flux": 0.282}, {"wave": 8643, "flux": 0.381}, {"wave": 8648, "flux": 0.247},
      {"wave": 8651, "flux": 0.035}, {"wave": 8656, "flux": -0.544}, {"wave": 8661, "flux": -0.247}, {"wave": 8665, "flux": 0.113},
      {"wave": 8669, "flux": -0.388}, {"wave": 8674, "flux": -0.685}, {"wave": 8678, "flux": -0.374}, {"wave": 8682, "flux": 0.353},
      {"wave": 8687, "flux": -0.205}, {"wave": 8692, "flux": 0.381}, {"wave": 8697, "flux": 0.212}, {"wave": 8701, "flux": 0.056},
      {"wave": 8706, "flux": 0.205}, {"wave": 8711, "flux": -0.134}, {"wave": 8716, "flux": 0.021}, {"wave": 8721, "flux": 0.021},
      {"wave": 8726, "flux": 0.247}, {"wave": 8731, "flux": 0.106}, {"wave": 8734, "flux": -0.162}, {"wave": 8739, "flux": -0.325},
      {"wave": 8744, "flux": -0.275}, {"wave": 8748, "flux": -0.212}, {"wave": 8752, "flux": 0.388}, {"wave": 8757, "flux": 0.657},
      {"wave": 8762, "flux": 0.12}, {"wave": 8765, "flux": 0.6}, {"wave": 8770, "flux": 0.035}, {"wave": 8775, "flux": -0.459},
      {"wave": 8780, "flux": -0.134}, {"wave": 8785, "flux": 0.177}, {"wave": 8790, "flux": -0.226}, {"wave": 8794, "flux": -0.134},
      {"wave": 8800, "flux": -0.12}, {"wave": 8804, "flux": -0.275}, {"wave": 8811, "flux": -0.318}, {"wave": 8815, "flux": -0.177},
      {"wave": 8821, "flux": -0.417}, {"wave": 8827, "flux": -0.911}, {"wave": 8832, "flux": -0.275}, {"wave": 8837, "flux": -0.445},
      {"wave": 8842, "flux": 0.219}, {"wave": 8845, "flux": 0.339}, {"wave": 8850, "flux": -0.332}, {"wave": 8856, "flux": -0.078},
      {"wave": 8862, "flux": 0.177}, {"wave": 8866, "flux": -0.233}, {"wave": 8871, "flux": -0.388}, {"wave": 8876, "flux": -0.219},
      {"wave": 8879, "flux": 0.021}, {"wave": 8884, "flux": -0.219}, {"wave": 8890, "flux": -0.6}, {"wave": 8894, "flux": -0.487},
      {"wave": 8899, "flux": -0.692}, {"wave": 8903, "flux": -0.247}, {"wave": 8909, "flux": -0.177}, {"wave": 8913, "flux": 0.226},
      {"wave": 8918, "flux": -1.059}, {"wave": 8922, "flux": -0.346}, {"wave": 8925, "flux": -0.042}, {"wave": 8930, "flux": -0.417},
      {"wave": 8935, "flux": -0.148}, {"wave": 8940, "flux": -0.445}, {"wave": 8945, "flux": -0.127}, {"wave": 8949, "flux": -0.261},
      {"wave": 8953, "flux": 0.261}, {"wave": 8958, "flux": -0.367}, {"wave": 8962, "flux": -0.078}, {"wave": 8967, "flux": 0.078},
      {"wave": 8972, "flux": 0.064}, {"wave": 8977, "flux": -0.085}, {"wave": 8980, "flux": -0.261}, {"wave": 8986, "flux": -0.65},
      {"wave": 8990, "flux": -0.162}, {"wave": 8995, "flux": -0.191}, {"wave": 9000, "flux": 0.268}, {"wave": 9005, "flux": -0.332},
      {"wave": 9008, "flux": 0.035}, {"wave": 9013, "flux": -0.134}, {"wave": 9016, "flux": -0.035}, {"wave": 9021, "flux": -0.205},
      {"wave": 9026, "flux": -0.247}, {"wave": 9029, "flux": 0.65}, {"wave": 9033, "flux": 0.657}, {"wave": 9037, "flux": -0.205},
      {"wave": 9041, "flux": -0.134}, {"wave": 9046, "flux": -0.869}, {"wave": 9050, "flux": -0.134}, {"wave": 9055, "flux": -0.395},
      {"wave": 9060, "flux": 0.007}, {"wave": 9064, "flux": -0.064}, {"wave": 9068, "flux": 0.198}, {"wave": 9073, "flux": -0.177},
      {"wave": 9078, "flux": 0.12}, {"wave": 9082, "flux": -0.064}, {"wave": 9086, "flux": -0.431}, {"wave": 9091, "flux": 0.205},
      {"wave": 9096, "flux": 0.007}, {"wave": 9101, "flux": -0.332}, {"wave": 9106, "flux": -0.007}, {"wave": 9109, "flux": 0.064},
      {"wave": 9114, "flux": -0.078}, {"wave": 9119, "flux": 0.049}, {"wave": 9123, "flux": 0.233}, {"wave": 9128, "flux": -0.332},
      {"wave": 9134, "flux": 0.007}, {"wave": 9138, "flux": 0.021}, {"wave": 9143, "flux": -0.064}, {"wave": 9148, "flux": -0.388},
      {"wave": 9152, "flux": 0.021}, {"wave": 9157, "flux": 0.078}, {"wave": 9161, "flux": -0.134}, {"wave": 9166, "flux": -0.007},
      {"wave": 9171, "flux": -0.078}, {"wave": 9176, "flux": 0.162}, {"wave": 9181, "flux": -0.205}, {"wave": 9186, "flux": -0.035},
      {"wave": 9190, "flux": 0.021}, {"wave": 9196, "flux": -0.353}, {"wave": 9200, "flux": 0.078}, {"wave": 9204, "flux": 0.339},
      {"wave": 9209, "flux": 0.035}, {"wave": 9213, "flux": -0.134}, {"wave": 9217, "flux": 0.304}, {"wave": 9222, "flux": 0.148},
      {"wave": 9226, "flux": 0.035}, {"wave": 9230, "flux": 0.233}, {"wave": 9235, "flux": -0.261}, {"wave": 9239, "flux": 0.092},
      {"wave": 9245, "flux": 0.162}, {"wave": 9249, "flux": -0.275}, {"wave": 9253, "flux": 0.134}, {"wave": 9258, "flux": -0.275},
      {"wave": 9263, "flux": 0.085}, {"wave": 9267, "flux": -0.106}, {"wave": 9272, "flux": -0.021}, {"wave": 9275, "flux": 0.134},
      {"wave": 9280, "flux": 0.247}, {"wave": 9286, "flux": 0.162}, {"wave": 9290, "flux": -0.247}, {"wave": 9297, "flux": -0.247},
      {"wave": 9301, "flux": -0.247}
    ]
  },
  "encoding": {
    "x": {
      "field": "wave",
      "type": "quantitative",
      "scale": {"domain": [4749, 9301], "nice": false, "zero": false},
      "axis": {
        "title": "Wavelength",
        "values": [5000, 6000, 7000, 8000, 9000],
        "format": "d",
        "labelFontSize": 28,
        "labelPadding": 10,
        "titleFontSize": 32,
        "titlePadding": 3
      }
    }
  },
  "layer": [
    {
      "data": {"name": "error"},
      "mark": {"type": "line", "color": "#008000", "strokeWidth": 1.3, "clip": true},
      "encoding": {
        "y": {
          "field": "error",
          "type": "quantitative",
          "scale": {"domain": [-1.163, 0.97], "nice": false, "zero": false},
          "axis": {
            "title": "10⁻¹⁸\u00a0 erg\u00a0 s⁻¹\u00a0 cm⁻²\u00a0 Å⁻¹",
            "values": [-1, -0.75, -0.5, -0.25, 0, 0.25, 0.5, 0.75],
            "format": ".2f",
            "labelFontSize": 35,
            "labelPadding": 17,
            "titleFontSize": 46,
            "titlePadding": 22,
            "titleY": 324
          }
        }
      }
    },
    {
      "data": {"name": "flux"},
      "mark": {"type": "line", "color": "#000000", "strokeWidth": 3.5, "clip": true},
      "encoding": {
        "y": {
          "field": "flux",
          "type": "quantitative",
          "scale": {"domain": [-1.163, 0.97], "nice": false, "zero": false},
          "axis": {
            "title": "10⁻¹⁸\u00a0 erg\u00a0 s⁻¹\u00a0 cm⁻²\u00a0 Å⁻¹",
            "values": [-1, -0.75, -0.5, -0.25, 0, 0.25, 0.5, 0.75],
            "format": ".2f",
            "labelFontSize": 35,
            "labelPadding": 17,
            "titleFontSize": 46,
            "titlePadding": 22,
            "titleY": 324
          }
        }
      }
    },
    {
      "data": {"name": "model"},
      "mark": {"type": "line", "color": "#0000ff", "strokeWidth": 5.5, "clip": true},
      "encoding": {
        "y": {
          "field": "model",
          "type": "quantitative",
          "scale": {"domain": [-1.163, 0.97], "nice": false, "zero": false},
          "axis": {
            "title": "10⁻¹⁸\u00a0 erg\u00a0 s⁻¹\u00a0 cm⁻²\u00a0 Å⁻¹",
            "values": [-1, -0.75, -0.5, -0.25, 0, 0.25, 0.5, 0.75],
            "format": ".2f",
            "labelFontSize": 35,
            "labelPadding": 17,
            "titleFontSize": 46,
            "titlePadding": 22,
            "titleY": 324
          }
        }
      }
    }
  ],
  "config": {
    "view": {"stroke": "black", "strokeWidth": 3},
    "axis": {
      "grid": false,
      "domain": false,
      "ticks": true,
      "tickColor": "black",
      "tickWidth": 3,
      "tickSize": 14,
      "labelColor": "black",
      "titleColor": "black",
      "labelFont": "DejaVu Sans",
      "titleFont": "DejaVu Sans",
      "titleFontWeight": "normal"
    }
  }
}
